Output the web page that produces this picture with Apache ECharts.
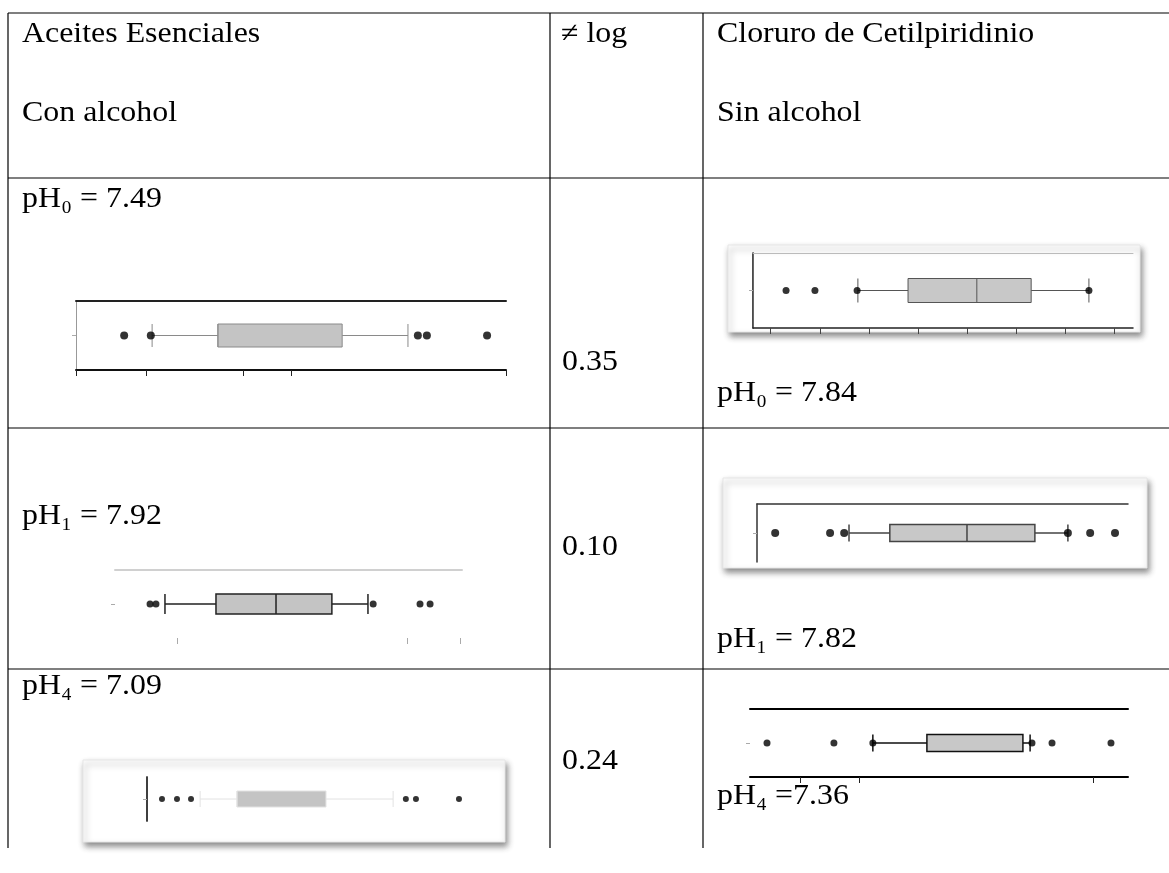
<!DOCTYPE html>
<html>
<head>
<meta charset="utf-8">
<script src="https://cdn.jsdelivr.net/npm/echarts@6/dist/echarts.min.js"></script>
<style>
html,body{margin:0;padding:0;background:#fff;}
#chart{width:1169px;height:873px;}
</style>
</head>
<body>
<div id="chart"></div>
<script>
// ---- table texts ----
const headerLeft = ['Aceites Esenciales', 'Con alcohol'];
const headerMid = ['\u2260 log'];
const headerRight = ['Cloruro de Cetilpiridinio', 'Sin alcohol'];
const phLeft = ['pH\u2080 = 7.49', 'pH\u2081 = 7.92', 'pH\u2084 = 7.09'];
const diffLog = ['0.35', '0.10', '0.24'];
const phRight = ['pH\u2080 = 7.84', 'pH\u2081 = 7.82', 'pH\u2084 =7.36'];

// ---- boxplot values (position on a 0-100 axis): [low whisker, Q1, median, Q3, high whisker] ----
const boxA = [17.7, 33.0, 33.0, 61.9, 77.2];
const outA = [11.2, 17.4, 79.5, 81.6, 95.6];
const boxB = [27.6, 40.8, 58.9, 73.2, 88.4];
const outB = [8.7, 16.3, 27.4, 88.4];
const boxC = [14.4, 29.1, 46.4, 62.5, 72.9];
const outC = [10.1, 11.8, 74.4, 87.9, 90.8];
const boxD = [24.8, 35.8, 56.6, 74.9, 83.8];
const outD = [4.9, 19.7, 23.5, 83.8, 89.8, 96.5];
const boxE = [16.3, 27.6, 27.6, 54.9, 75.5];
const outE = [4.6, 9.2, 13.5, 79.4, 82.5, 95.7];
const boxF = [32.5, 46.8, 72.2, 72.2, 74.1];
const outF = [4.5, 22.2, 32.5, 74.6, 79.9, 95.5];

// ---- tick positions ----
const ticksA = [0, 16.3, 39, 50, 100];
const ticksB = [4.6, 17.6, 30.5, 43.4, 56.3, 69.2, 82.1, 95.0];
const ticksC = [17.9, 84.1, 99.4];
const ticksF = [13.2, 28.8, 90.7];

// ---- panel layouts and styles ----
const panels = [
  { box: boxA, out: outA, grid: {left: 76, top: 301, width: 430, height: 69}, boxW: 23,
    fill: '#c4c4c4', border: '#8a8a8a', bw: 1, dot: 8, sym: 'circle',
    bottom: {line: '#111', lw: 2, ticks: ticksA, tickColor: '#222'},
    top: {line: '#222', lw: 2}, left: null, right: {line: '#999', lw: 1} },
  { box: boxB, out: outB, grid: {left: 753, top: 253, width: 380, height: 75}, boxW: 24,
    fill: '#c8c8c8', border: '#555', bw: 1, dot: 7, sym: 'circle',
    bottom: {line: '#222', lw: 1.5, ticks: ticksB, tickColor: '#444'},
    top: {line: '#bbb', lw: 1}, left: {line: '#111', lw: 1.5}, right: {line: '#666', lw: 1} },
  { box: boxC, out: outC, grid: {left: 115, top: 570, width: 347, height: 68}, boxW: 20,
    fill: '#c4c4c4', border: '#222', bw: 1.5, dot: 7, sym: 'circle',
    bottom: {line: null, ticks: ticksC, tickColor: '#aaa'},
    top: {line: '#d0d0d0', lw: 2}, left: null, right: null },
  { box: boxD, out: outD, grid: {left: 757, top: 504, width: 371, height: 58}, boxW: 17,
    fill: '#c8c8c8', border: '#444', bw: 1.5, dot: 8, sym: 'circle',
    bottom: null, top: {line: '#333', lw: 1.5}, left: {line: '#333', lw: 1.5}, right: null },
  { box: boxE, out: outE, grid: {left: 147, top: 777, width: 326, height: 44}, boxW: 16,
    fill: '#c4c4c4', border: '#e2e2e2', bw: 1, dot: 6, sym: 'circle',
    bottom: null, top: null, left: {line: '#333', lw: 1.5}, right: {line: '#333', lw: 1.5} },
  { box: boxF, out: outF, grid: {left: 750, top: 709, width: 378, height: 68}, boxW: 17,
    fill: '#c8c8c8', border: '#111', bw: 1.5, dot: 7, sym: 'circle',
    bottom: {line: '#000', lw: 2, ticks: ticksF, tickColor: '#222'},
    top: {line: '#000', lw: 2}, left: null, right: null }
];

// shadowed frames behind some panels
const frames = [
  {x: 728, y: 245, w: 412, h: 87},
  {x: 723, y: 478, w: 424, h: 90},
  {x: 83, y: 760, w: 422, h: 82}
];

const grids = [], xAxes = [], yAxes = [], series = [];
panels.forEach((p, i) => {
  grids.push(Object.assign({containLabel: false}, p.grid));
  xAxes.push({
    gridIndex: i, type: 'value', min: 0, max: 100, position: 'bottom',
    axisLine: {show: !!(p.bottom && p.bottom.line), lineStyle: {color: p.bottom && p.bottom.line || '#000', width: p.bottom && p.bottom.lw || 1}},
    axisTick: {show: !!(p.bottom && p.bottom.ticks), customValues: p.bottom && p.bottom.ticks || [], length: 6,
      lineStyle: {color: p.bottom && p.bottom.tickColor || '#000', width: 1}},
    axisLabel: {show: false}, splitLine: {show: false}
  });
  xAxes.push({
    gridIndex: i, type: 'value', min: 0, max: 100, position: 'top',
    axisLine: {show: !!p.top, lineStyle: {color: p.top ? p.top.line : '#000', width: p.top ? p.top.lw : 1}},
    axisTick: {show: false}, axisLabel: {show: false}, splitLine: {show: false}
  });
  yAxes.push({
    gridIndex: i, type: 'category', data: [''], position: 'left',
    axisLine: {show: !!p.left, lineStyle: {color: p.left ? p.left.line : '#000', width: p.left ? p.left.lw : 1}},
    axisTick: {show: true, alignWithLabel: true, length: 4, lineStyle: {color: '#aaa'}},
    axisLabel: {show: false}, splitLine: {show: false}
  });
  yAxes.push({
    gridIndex: i, type: 'category', data: [''], position: 'right',
    axisLine: {show: !!p.right, lineStyle: {color: p.right ? p.right.line : '#000', width: p.right ? p.right.lw : 1}},
    axisTick: {show: false}, axisLabel: {show: false}, splitLine: {show: false}
  });
  series.push({
    type: 'boxplot', xAxisIndex: 2 * i, yAxisIndex: 2 * i,
    boxWidth: [p.boxW, p.boxW],
    itemStyle: {color: p.fill, borderColor: p.border, borderWidth: p.bw},
    data: [p.box], z: 3
  });
  series.push({
    type: 'scatter', xAxisIndex: 2 * i, yAxisIndex: 2 * i,
    symbol: p.sym, symbolSize: p.dot,
    itemStyle: {color: '#000'},
    data: p.out.map(v => [v, 0]), z: 4
  });
});

// table lines
const lineStyle = {stroke: '#000', lineWidth: 1.2};
const tableLines = [
  [8, 13, 1169, 13], [8, 178, 1169, 178], [8, 428, 1169, 428], [8, 669, 1169, 669],
  [8, 13, 8, 848], [550, 13, 550, 848], [703, 13, 703, 848]
];
const graphics = [];
tableLines.forEach(l => graphics.push({type: 'line', shape: {x1: l[0], y1: l[1], x2: l[2], y2: l[3]}, style: lineStyle, z: 1, silent: true}));
frames.forEach(f => graphics.push({type: 'rect', shape: {x: f.x, y: f.y, width: f.w, height: f.h},
  style: {fill: '#fff', stroke: '#e6e6e6', lineWidth: 1, shadowBlur: 6, shadowOffsetX: 2, shadowOffsetY: 4, shadowColor: 'rgba(0,0,0,0.45)'}, z: -10, silent: true}));

const FONT = '29px "Liberation Serif", "Times New Roman", serif';
function txt(s, x, y) {
  graphics.push({type: 'text', x: x, y: y, scaleX: 1.1, z: 5, silent: true,
    style: {text: s, font: FONT, fill: '#000', align: 'left', verticalAlign: 'middle'}});
}
txt(headerLeft[0], 22, 34); txt(headerLeft[1], 22, 113);
txt(headerMid[0], 561, 34);
txt(headerRight[0], 717, 34); txt(headerRight[1], 717, 113);
const yLeft = [199, 516, 686], yMid = [362, 547, 761], yRight = [393, 639, 796];
for (let i = 0; i < 3; i++) {
  txt(phLeft[i], 22, yLeft[i]);
  txt(diffLog[i], 562, yMid[i]);
  txt(phRight[i], 717, yRight[i]);
}

const chart = echarts.init(document.getElementById('chart'), null, {renderer: 'canvas'});
chart.setOption({
  animation: false,
  backgroundColor: '#fff',
  grid: grids, xAxis: xAxes, yAxis: yAxes, series: series,
  graphic: {elements: graphics}
});
</script>
</body>
</html>
